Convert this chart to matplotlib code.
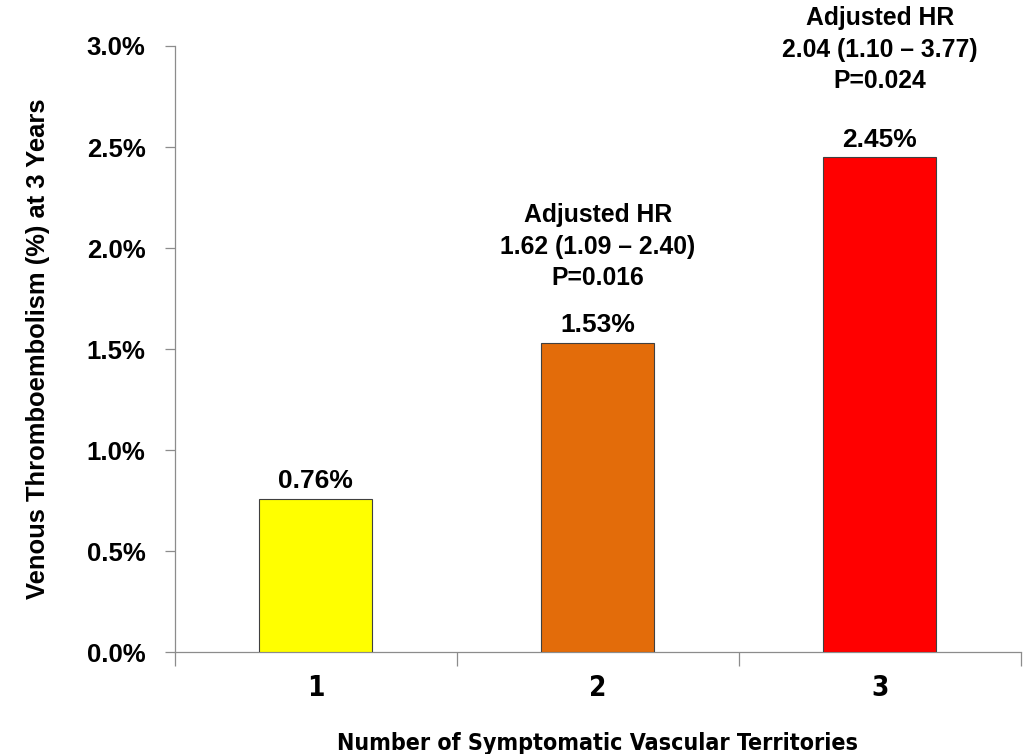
"""Venous thromboembolism at 3 years by number of symptomatic vascular territories."""

import matplotlib

matplotlib.use("Agg")
import matplotlib.pyplot as plt
from matplotlib.ticker import FixedLocator, FuncFormatter

# Data.
territories = ["1", "2", "3"]
vte_pct = [0.76, 1.53, 2.45]
bar_colors = ["#FFFF00", "#E36C0A", "#FF0000"]
hr_text = [
    None,
    "Adjusted HR\n1.62 (1.09 \u2013 2.40)\nP=0.016",
    "Adjusted HR\n2.04 (1.10 \u2013 3.77)\nP=0.024",
]
y_ticks = [0.0, 0.5, 1.0, 1.5, 2.0, 2.5, 3.0]

# Layout: how far (points) above each bar the HR block sits.
HR_OFFSET_PT = [0, 38, 46]

plt.rcParams["font.family"] = ["Liberation Sans", "DejaVu Sans"]
plt.rcParams["font.weight"] = "bold"
NARROW = ["Liberation Sans Narrow", "DejaVu Sans"]
SPINE = "#8c8c8c"

fig = plt.figure(figsize=(10.28, 7.54), dpi=100)
ax = fig.add_axes([0.170, 0.135, 0.823, 0.804])

x = list(range(1, len(territories) + 1))
ax.bar(x, vte_pct, width=0.40, color=bar_colors,
       edgecolor="#404040", linewidth=0.8, zorder=3)

ax.set_xlim(0.5, len(territories) + 0.5)
ax.set_ylim(0, 3.0)

# Excel-style category axis: tick marks between categories, labels centred.
ax.xaxis.set_major_locator(FixedLocator([i + 0.5 for i in range(len(territories) + 1)]))
ax.xaxis.set_major_formatter(FuncFormatter(lambda v, p: ""))
ax.set_xticks(x, territories, minor=True)
ax.tick_params(axis="x", which="major", length=10, width=0.9, color=SPINE, direction="out")
ax.tick_params(axis="x", which="minor", length=0, pad=16, labelsize=20)
for lbl in ax.get_xticklabels(minor=True):
    lbl.set_family(NARROW)
    lbl.set_stretch("condensed")
    lbl.set_fontweight("bold")

ax.set_yticks(y_ticks)
ax.yaxis.set_major_formatter(FuncFormatter(lambda v, p: f"{v:.1f}%"))
ax.tick_params(axis="y", length=7, width=0.9, color=SPINE, direction="out",
               labelsize=18.5, pad=14)

for side in ("top", "right"):
    ax.spines[side].set_visible(False)
for side in ("left", "bottom"):
    ax.spines[side].set_color(SPINE)
    ax.spines[side].set_linewidth(0.9)

ax.set_ylabel("Venous Thromboembolism (%) at 3 Years", fontsize=18.4,
              fontweight="bold", va="center")
ax.yaxis.set_label_coords(-0.162, 0.5)
ax.set_xlabel("Number of Symptomatic Vascular Territories", fontsize=16.7,
              fontweight="bold", family=NARROW, fontstretch="condensed", va="center")
ax.xaxis.set_label_coords(0.5, -0.150)

for xi, val, note, off in zip(x, vte_pct, hr_text, HR_OFFSET_PT):
    ax.annotate(f"{val:.2f}%", (xi, val), xytext=(0, 4), textcoords="offset points",
                ha="center", va="bottom", fontsize=19, fontweight="bold")
    if note:
        ax.annotate(note, (xi, val), xytext=(0, off), textcoords="offset points",
                    ha="center", va="bottom", fontsize=17.8, fontweight="bold",
                    linespacing=1.4, annotation_clip=False)

fig.savefig("out.png", dpi=100)
